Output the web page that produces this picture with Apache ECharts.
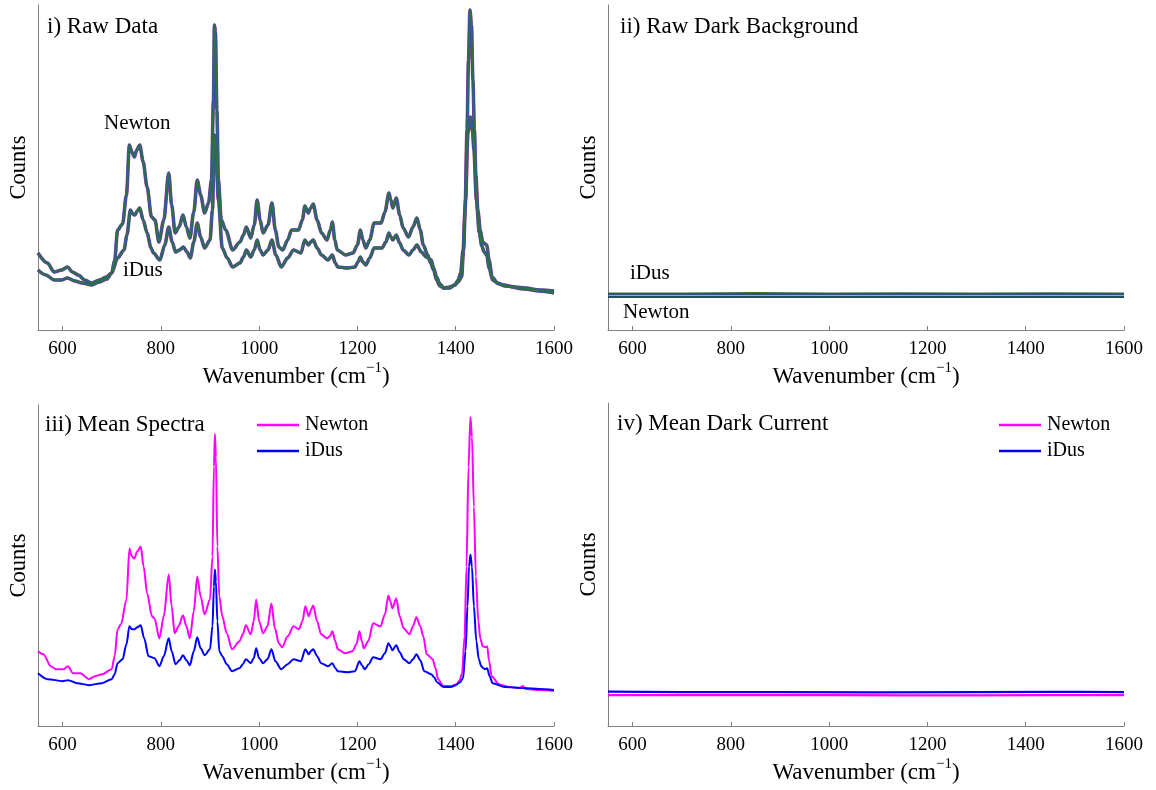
<!DOCTYPE html>
<html>
<head>
<meta charset="utf-8">
<script src="https://cdn.jsdelivr.net/npm/echarts@6/dist/echarts.min.js"></script>
<style>html,body{margin:0;padding:0;background:#fff;}#c{width:1156px;height:790px;}</style>
</head>
<body>
<div id="c"></div>
<script>
// ---------------- DATA (arbitrary count units) ----------------
const xTicks = [600, 800, 1000, 1200, 1400, 1600];
const xMin = 550, xMax = 1600;

// Panel i) raw spectra bands
const rawNewton = [[550,77],[569,67],[583,58],[598,60],[610,63],[620,58],[632,55],[645,50],[659,47],[675,50],[689,53],[700,57],[706,70],[712,100],[722,106],[730,135],[736,185],[741,178],[746,173],[751,180],[757,185],[764,168],[772,143],[781,113],[788,110],[796,88],[806,110],[816,157],[822,125],[829,97],[837,103],[845,115],[852,103],[859,92],[867,118],[874,150],[881,135],[889,117],[897,127],[903,150],[907,230],[909,305],[911,298],[914,220],[917,150],[923,110],[932,100],[946,80],[961,88],[968,95],[974,103],[983,92],[990,105],[996,130],[1002,110],[1008,97],[1018,105],[1026,127],[1033,100],[1040,83],[1048,80],[1058,90],[1066,100],[1080,100],[1088,110],[1093,124],[1100,117],[1105,122],[1110,126],[1118,110],[1127,97],[1138,90],[1145,100],[1149,108],[1154,90],[1159,80],[1176,75],[1191,77],[1200,85],[1206,100],[1211,90],[1217,82],[1225,90],[1234,107],[1248,107],[1256,118],[1264,137],[1268,130],[1272,122],[1279,132],[1286,115],[1293,102],[1304,93],[1313,103],[1321,112],[1328,100],[1334,85],[1343,75],[1349,67],[1355,60],[1361,50],[1368,44],[1376,42],[1388,42],[1398,45],[1405,50],[1410,57],[1415,80],[1419,120],[1423,200],[1426,270],[1429,320],[1432,305],[1435,250],[1438,200],[1441,155],[1445,120],[1450,100],[1455,88],[1460,86],[1463,85],[1468,70],[1474,53],[1485,47],[1497,45],[1520,43],[1542,42],[1570,40],[1600,39]];
const rawIDus = [[550,60],[566,55],[583,50],[598,50],[610,52],[625,49],[640,47],[659,45],[675,48],[690,51],[700,57],[712,72],[725,80],[731,95],[738,120],[743,116],[747,115],[752,119],[757,122],[764,110],[772,97],[780,82],[785,77],[798,70],[808,85],[816,103],[823,88],[830,78],[838,80],[846,83],[853,78],[860,72],[867,88],[874,107],[881,93],[889,82],[900,90],[905,120],[909,195],[912,180],[917,130],[925,82],[935,72],[946,63],[961,67],[968,73],[974,80],[983,73],[990,80],[996,90],[1002,80],[1008,75],[1018,80],[1026,90],[1034,75],[1045,63],[1058,72],[1070,80],[1085,77],[1093,90],[1100,85],[1105,88],[1110,90],[1118,82],[1127,75],[1140,70],[1149,75],[1155,67],[1160,63],[1180,62],[1195,63],[1201,68],[1206,73],[1211,68],[1217,65],[1225,72],[1234,82],[1250,82],[1258,88],[1264,97],[1268,93],[1272,90],[1279,95],[1286,87],[1293,80],[1305,75],[1313,80],[1321,85],[1330,78],[1340,73],[1350,70],[1355,62],[1361,53],[1368,46],[1376,42],[1388,43],[1398,45],[1405,48],[1412,53],[1416,80],[1420,130],[1425,197],[1430,213],[1434,200],[1437,180],[1442,130],[1448,97],[1453,84],[1458,78],[1463,75],[1468,62],[1475,50],[1488,46],[1500,44],[1540,41],[1570,39],[1600,37]];

// Panel ii) raw dark background
const darkRawIDus = [[550,36],[700,36],[850,36.3],[1000,36],[1150,36.2],[1300,36],[1450,36.2],[1600,36]];
const darkRawNewton = [[550,33],[800,33],[1050,33],[1300,33],[1600,33]];

// Panel iii) mean spectra
const meanNewton = [[550,75],[561,72],[576,60],[587,57],[602,57],[611,60],[621,53],[636,53],[654,47],[666,50],[681,52],[700,57],[706,70],[712,97],[719,102],[730,127],[736,178],[741,170],[746,168],[752,175],[759,180],[765,160],[772,133],[782,110],[787,108],[797,88],[806,110],[816,152],[822,120],[828,93],[836,100],[845,111],[852,100],[859,88],[867,115],[874,150],[881,130],[889,112],[900,127],[905,170],[908,260],[910,293],[912,270],[915,180],[919,130],[925,110],[934,93],[945,77],[960,85],[967,92],[973,101],[983,92],[989,105],[994,127],[1000,105],[1008,93],[1017,100],[1025,123],[1032,98],[1040,83],[1047,79],[1058,90],[1070,100],[1081,97],[1088,105],[1094,120],[1101,110],[1105,116],[1110,121],[1118,105],[1126,92],[1138,88],[1144,90],[1149,95],[1155,85],[1160,77],[1175,73],[1190,75],[1198,82],[1204,95],[1209,85],[1213,78],[1222,85],[1232,103],[1247,100],[1256,112],[1263,131],[1267,125],[1271,118],[1279,128],[1286,110],[1294,98],[1306,92],[1313,100],[1320,109],[1328,100],[1334,90],[1341,72],[1353,67],[1359,58],[1364,47],[1375,40],[1390,40],[1402,42],[1408,46],[1413,53],[1418,90],[1422,160],[1426,260],[1430,310],[1433,290],[1437,220],[1441,150],[1446,105],[1450,88],[1455,80],[1460,79],[1464,80],[1468,65],[1473,50],[1488,42],[1510,39],[1530,38],[1537,40],[1542,37],[1570,36],[1600,35]];
const meanIDus = [[550,53],[570,47],[600,45],[611,46],[630,43],[654,41],[680,43],[700,47],[706,52],[712,63],[722,67],[730,82],[736,100],[741,97],[746,97],[752,99],[759,101],[766,88],[775,70],[787,68],[797,60],[806,70],[816,88],[822,75],[830,62],[838,66],[845,71],[852,66],[859,61],[867,75],[874,89],[881,78],[889,71],[900,77],[905,100],[908,140],[910,157],[912,145],[915,105],[919,75],[925,70],[934,62],[945,55],[960,58],[967,62],[973,67],[983,63],[989,68],[994,78],[1000,68],[1008,63],[1017,67],[1025,77],[1033,65],[1045,57],[1058,62],[1070,67],[1085,65],[1094,77],[1101,72],[1105,75],[1110,77],[1118,70],[1126,63],[1140,60],[1149,63],[1155,58],[1160,55],[1180,54],[1195,55],[1204,65],[1209,61],[1215,57],[1223,62],[1232,69],[1247,67],[1256,73],[1263,83],[1267,80],[1271,76],[1279,81],[1286,74],[1294,67],[1306,63],[1313,67],[1320,72],[1328,66],[1336,55],[1350,52],[1356,49],[1362,44],[1375,39],[1390,39],[1400,41],[1409,44],[1415,48],[1420,75],[1424,120],[1427,160],[1430,172],[1433,160],[1437,120],[1442,85],[1447,67],[1452,60],[1456,58],[1460,57],[1464,58],[1469,50],[1475,43],[1500,39],[1540,38],[1570,37],[1600,36]];

// Panel iv) mean dark current
const darkMeanIDus = [[550,34.5],[700,34],[900,34],[1100,33.8],[1300,34],[1450,34.2],[1510,34.3],[1600,34]];
const darkMeanNewton = [[550,31],[800,31],[1000,31],[1150,30.8],[1300,30.8],[1450,31],[1600,31]];

// ---------------- CHART ----------------
const SERIF = 'Liberation Serif';
const AXIS_GRAY = '#808080';
const grids = [
  {left: 38,  top: 5,   width: 516, height: 325},
  {left: 608, top: 5,   width: 516, height: 325},
  {left: 38,  top: 405, width: 516, height: 322},
  {left: 608, top: 403, width: 516, height: 324}
];
const yMax = [325, 325, 322, 324];

const xAxes = grids.map((g, i) => ({
  type: 'value', gridIndex: i, min: xMin, max: xMax,
  axisLine: {show: true, onZero: false, lineStyle: {color: AXIS_GRAY, width: 1}},
  axisTick: {show: true, inside: true, length: 4, customValues: xTicks, lineStyle: {color: AXIS_GRAY}},
  axisLabel: {show: true, customValues: xTicks, formatter: v => String(v), color: '#000', fontFamily: SERIF, fontSize: 19, margin: 10},
  splitLine: {show: false},
  name: 'Wavenumber (cm{sup|\u22121})',
  nameLocation: 'middle', nameGap: 31,
  nameTextStyle: {color: '#000', fontFamily: SERIF, fontSize: 23, lineHeight: 32,
    rich: {sup: {fontSize: 15, fontFamily: SERIF, color: '#000', verticalAlign: 'top'}}}
}));
const yAxes = grids.map((g, i) => ({
  type: 'value', gridIndex: i, min: 0, max: yMax[i],
  axisLine: {show: true, lineStyle: {color: AXIS_GRAY, width: 1}},
  axisTick: {show: false}, axisLabel: {show: false}, splitLine: {show: false},
  name: 'Counts', nameLocation: 'middle', nameGap: 7,
  nameTextStyle: {color: '#000', fontFamily: SERIF, fontSize: 22.5}
}));

function line(name, data, idx, color, width, extra) {
  return Object.assign({
    name: name, type: 'line', xAxisIndex: idx, yAxisIndex: idx, data: data,
    showSymbol: false, symbol: 'none', smooth: 0.3, smoothMonotone: 'x',
    lineStyle: {color: color, width: width}, itemStyle: {color: color},
    silent: true, animation: false
  }, extra || {});
}
// multi-coloured band layers mimicking many overlapping spectra
const bandLayers = [['#a0408a', 3.6], ['#2a4fb0', 2.8], ['#2f7048', 1.8]];
const series = [];
bandLayers.forEach((l, k) => {
  series.push(line('rawN' + k, rawNewton, 0, l[0], l[1]));
  series.push(line('rawI' + k, rawIDus, 0, l[0], l[1]));
});
series.push(line('darkRawI0', darkRawIDus, 1, '#3a6a3a', 3.2, {smooth: false}));
series.push(line('darkRawI1', darkRawIDus, 1, '#2a4f90', 1.6, {smooth: false}));
series.push(line('darkRawN', darkRawNewton, 1, '#1f4f5f', 2, {smooth: false}));
series.push(line('Newton', meanNewton, 2, '#ff00ff', 2));
series.push(line('iDus', meanIDus, 2, '#0000ff', 2));
series.push(line('Newton', darkMeanNewton, 3, '#ff00ff', 2.2, {smooth: false}));
series.push(line('iDus', darkMeanIDus, 3, '#0000ff', 2.2, {smooth: false}));

function txt(x, y, s, size) {
  return {type: 'text', x: x, y: y, silent: true,
    style: {text: s, fill: '#000', font: (size || 23) + 'px ' + SERIF, textVerticalAlign: 'middle', textAlign: 'left'}};
}

const legendCommon = {
  orient: 'vertical', data: ['Newton', 'iDus'], icon: 'rect', itemWidth: 42, itemHeight: 2.5,
  itemGap: 6, selectedMode: false,
  textStyle: {color: '#000', fontFamily: SERIF, fontSize: 20, padding: [0, 0, 0, 1]}
};

const option = {
  backgroundColor: '#fff',
  animation: false,
  textStyle: {fontFamily: SERIF},
  grid: grids,
  xAxis: xAxes,
  yAxis: yAxes,
  legend: [
    Object.assign({left: 252, top: 410}, legendCommon),
    Object.assign({left: 994, top: 410}, legendCommon)
  ],
  graphic: [
    txt(47, 27, 'i) Raw Data'),
    txt(620, 27, 'ii) Raw Dark Background'),
    txt(45, 425, 'iii) Mean Spectra'),
    txt(617, 424, 'iv) Mean Dark Current'),
    txt(104, 123, 'Newton', 21),
    txt(123, 270, 'iDus', 21),
    txt(630, 273, 'iDus', 21),
    txt(623, 312, 'Newton', 21)
  ],
  series: series
};
const chart = echarts.init(document.getElementById('c'), null, {renderer: 'canvas'});
chart.setOption(option);
</script>
</body>
</html>
